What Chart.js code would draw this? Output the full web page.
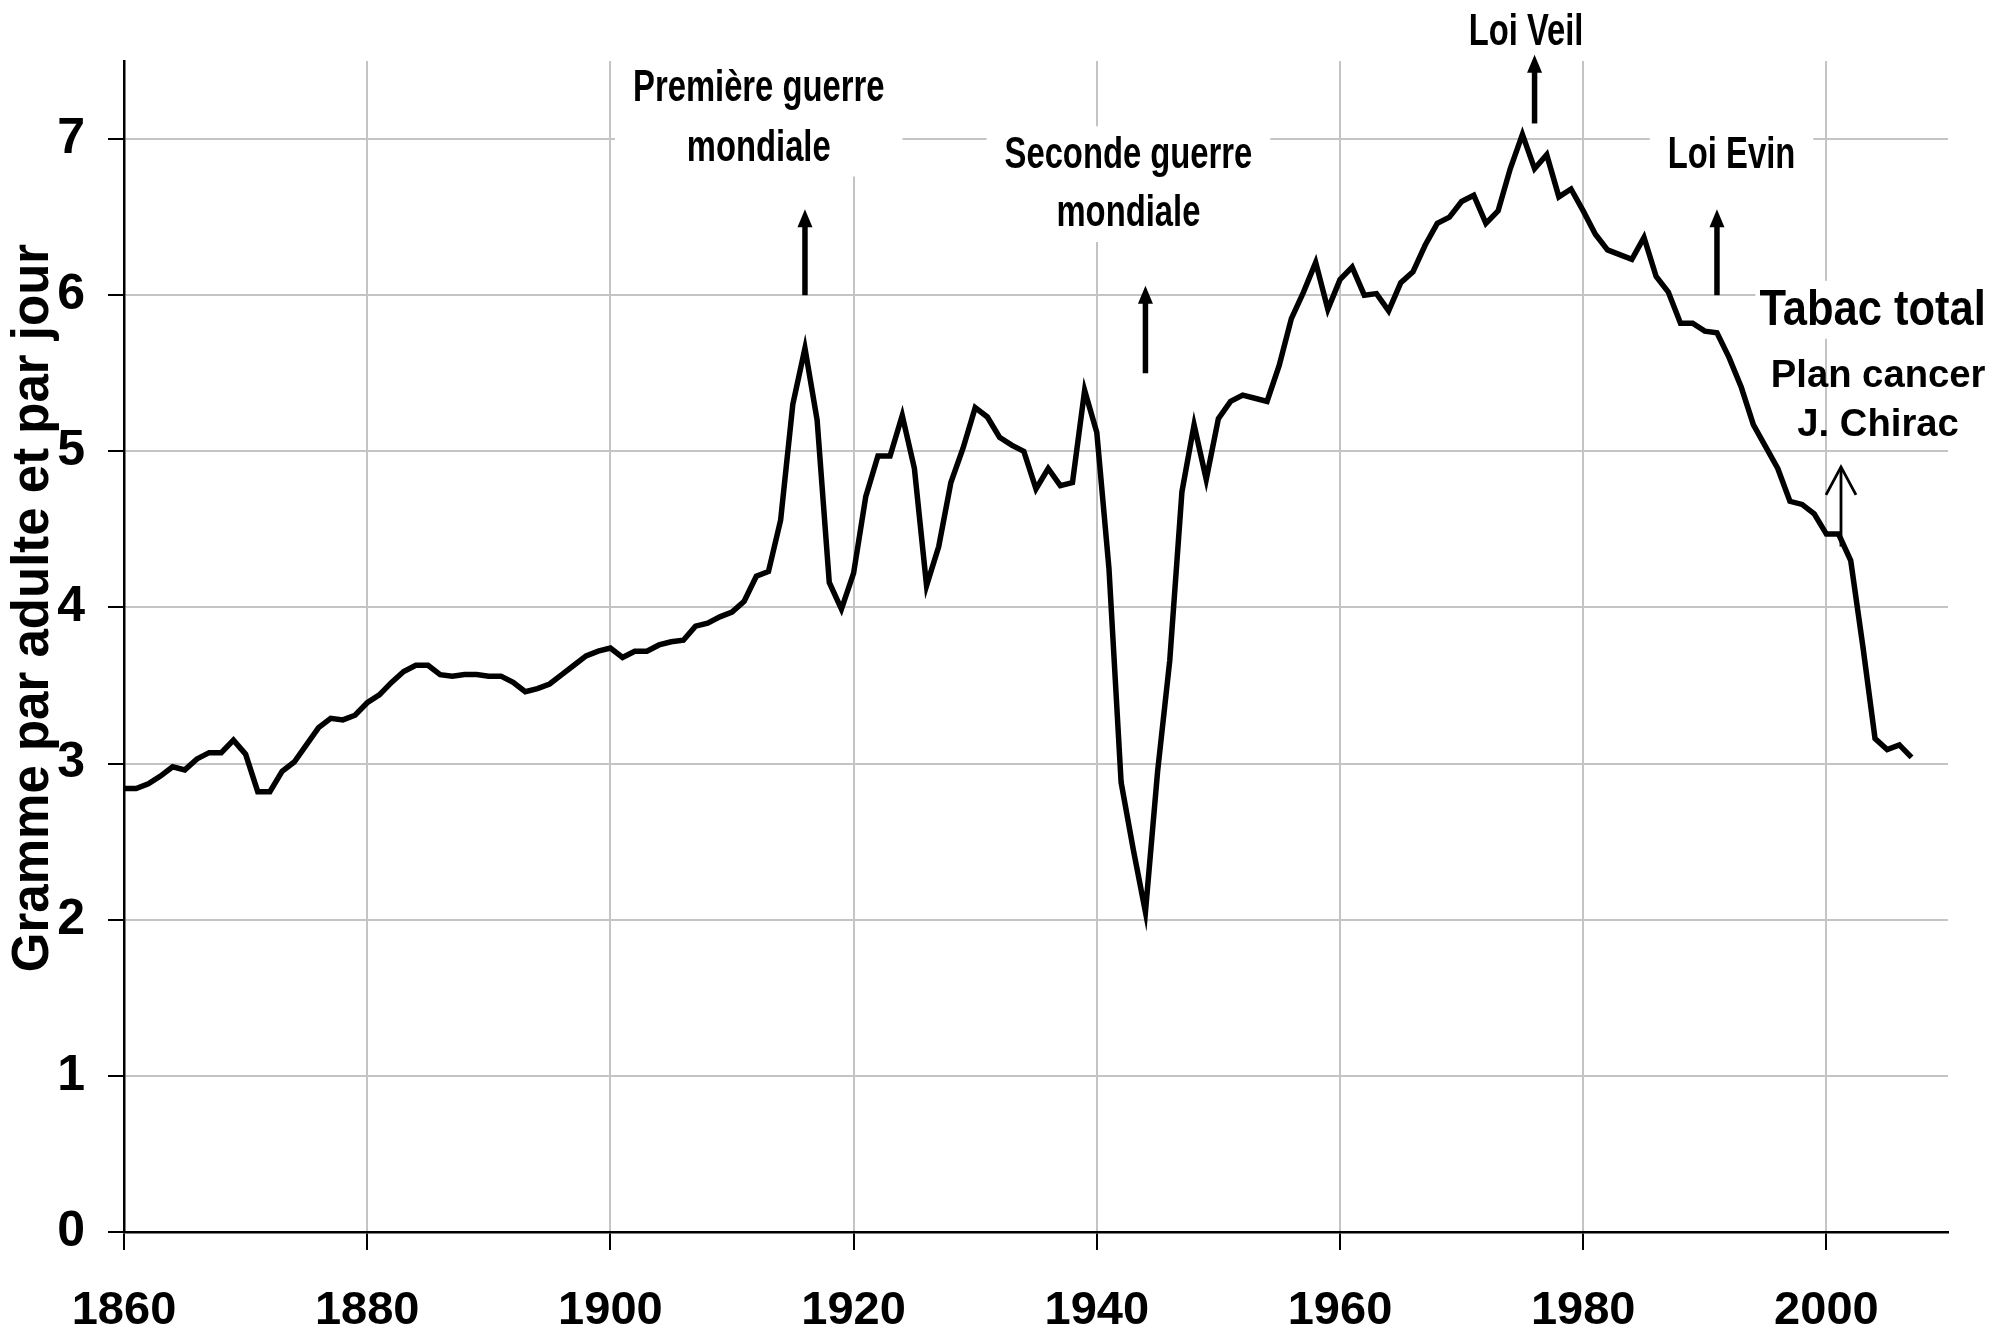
<!DOCTYPE html>
<html>
<head>
<meta charset="utf-8">
<script src="https://cdn.jsdelivr.net/npm/chart.js@4.4.1/dist/chart.umd.min.js"></script>
<style>
html,body{margin:0;padding:0;background:#fff;}
#wrap{width:1998px;height:1336px;position:relative;}
</style>
</head>
<body>
<div id="wrap"><canvas id="c"></canvas></div>
<script>
// ---- data ----
const years = [1860,1861,1862,1863,1864,1865,1866,1867,1868,1869,
1870,1871,1872,1873,1874,1875,1876,1877,1878,1879,
1880,1881,1882,1883,1884,1885,1886,1887,1888,1889,
1890,1891,1892,1893,1894,1895,1896,1897,1898,1899,
1900,1901,1902,1903,1904,1905,1906,1907,1908,1909,
1910,1911,1912,1913,1914,1915,1916,1917,1918,1919,
1920,1921,1922,1923,1924,1925,1926,1927,1928,1929,
1930,1931,1932,1933,1934,1935,1936,1937,1938,1939,
1940,1941,1942,1943,1944,1945,1946,1947,1948,1949,
1950,1951,1952,1953,1954,1955,1956,1957,1958,1959,
1960,1961,1962,1963,1964,1965,1966,1967,1968,1969,
1970,1971,1972,1973,1974,1975,1976,1977,1978,1979,
1980,1981,1982,1983,1984,1985,1986,1987,1988,1989,
1990,1991,1992,1993,1994,1995,1996,1997,1998,1999,
2000,2001,2002,2003,2004,2005,2006,2007];

const tabacTotal = [2.84,2.84,2.87,2.92,2.98,2.96,3.03,3.07,3.07,3.15,
3.06,2.82,2.82,2.95,3.01,3.12,3.23,3.29,3.28,3.31,
3.39,3.44,3.52,3.59,3.63,3.63,3.57,3.56,3.57,3.57,
3.56,3.56,3.52,3.46,3.48,3.51,3.57,3.63,3.69,3.72,
3.74,3.68,3.72,3.72,3.76,3.78,3.79,3.88,3.90,3.94,
3.97,4.04,4.20,4.23,4.56,5.30,5.66,5.20,4.16,3.99,
4.22,4.71,4.97,4.97,5.23,4.89,4.14,4.39,4.80,5.02,
5.28,5.22,5.09,5.04,5.00,4.76,4.89,4.78,4.80,5.39,
5.12,4.25,2.88,2.45,2.05,2.95,3.66,4.74,5.17,4.82,
5.21,5.32,5.36,5.34,5.32,5.55,5.85,6.02,6.21,5.91,
6.10,6.18,6.00,6.01,5.90,6.08,6.15,6.32,6.46,6.50,
6.60,6.64,6.46,6.54,6.81,7.03,6.81,6.90,6.63,6.68,
6.54,6.39,6.29,6.26,6.23,6.37,6.12,6.02,5.82,5.82,
5.77,5.76,5.60,5.41,5.17,5.03,4.89,4.68,4.66,4.60,
4.47,4.47,4.30,3.75,3.16,3.09,3.12,3.04];

const xTickYears = [1860,1880,1900,1920,1940,1960,1980,2000];
const yTickValues = [0,1,2,3,4,5,6,7];
const yTitle = 'Gramme par adulte et par jour';

// annotation texts anchored in data units (year, value)
const noteTexts = [
  {lines:['Première guerre','mondiale'], year:1912.2, values:[7.32,6.94], kind:'narrow', boxed:true},
  {lines:['Seconde guerre','mondiale'], year:1942.6, values:[6.89,6.52], kind:'narrow', boxed:true},
  {lines:['Loi Veil'], year:1975.3, values:[7.68], kind:'narrow', boxed:true},
  {lines:['Loi Evin'], year:1992.2, values:[6.89], kind:'narrow', boxed:true},
  {lines:['Tabac total'], year:2003.8, values:[5.90], kind:'big', boxed:true},
  {lines:['Plan cancer','J. Chirac'], year:2004.25, values:[5.48,5.17], kind:'plain', boxed:false}
];
// arrows: year, from value, to value
const arrowYears = [1916,1944,1976,1991,2001.2];
const arrowFrom  = [6.0,5.5,7.1,6.0,4.39];
const arrowTo    = [6.55,6.06,7.54,6.55,4.90];
const arrowOpen  = [false,false,false,false,true];

// ---- styles ----
const FONT_SANS = '"Liberation Sans",Arial,sans-serif';
// font + horizontal squeeze for each annotation kind
const noteStyles = {
  narrow: {font: 'bold 44px ' + FONT_SANS, sx: 0.745},
  big:    {font: 'bold 50px ' + FONT_SANS, sx: 0.87},
  plain:  {font: 'bold 39px ' + FONT_SANS, sx: 0.98}
};

const notesPlugin = {
  id: 'notes',
  beforeDatasetsDraw(chart) {
    const {ctx, scales:{x, y}} = chart;
    ctx.save();
    ctx.fillStyle = '#ffffff';
    for (const n of noteTexts) {
      if (!n.boxed) continue;
      const st = noteStyles[n.kind];
      ctx.font = st.font;
      const w = Math.max(...n.lines.map(l => ctx.measureText(l).width)) * st.sx;
      const cx = x.getPixelForValue(n.year);
      const ys = n.values.map(v => y.getPixelForValue(v));
      const padH = n.kind === 'big' ? 4 : 18;
      const top = Math.min(...ys) - 30;
      const bot = Math.max(...ys) + 28;
      ctx.fillRect(cx - w/2 - padH, top, w + 2*padH, bot - top);
    }
    ctx.restore();
  },
  afterDatasetsDraw(chart) {
    const {ctx, scales:{x, y}} = chart;
    ctx.save();
    ctx.fillStyle = '#000';
    ctx.strokeStyle = '#000';
    ctx.textAlign = 'center';
    ctx.textBaseline = 'middle';
    for (const n of noteTexts) {
      const st = noteStyles[n.kind];
      ctx.font = st.font;
      const cx = x.getPixelForValue(n.year);
      n.lines.forEach((l, i) => {
        ctx.save();
        ctx.translate(cx, y.getPixelForValue(n.values[i]));
        ctx.scale(st.sx, 1);
        ctx.fillText(l, 0, 0);
        ctx.restore();
      });
    }
    // arrows
    arrowYears.forEach((yr, i) => {
      const ax = x.getPixelForValue(yr);
      const y0 = y.getPixelForValue(arrowFrom[i]);
      const y1 = y.getPixelForValue(arrowTo[i]);
      if (arrowOpen[i]) {
        ctx.lineWidth = 2.8;
        ctx.lineCap = 'butt';
        ctx.beginPath();
        ctx.moveTo(ax, y0); ctx.lineTo(ax, y1 + 1);
        ctx.stroke();
        ctx.beginPath();
        ctx.moveTo(ax - 15, y1 + 28); ctx.lineTo(ax, y1); ctx.lineTo(ax + 15, y1 + 28);
        ctx.lineJoin = 'miter';
        ctx.stroke();
      } else {
        ctx.lineWidth = 5.5;
        ctx.lineCap = 'butt';
        ctx.beginPath();
        ctx.moveTo(ax, y0); ctx.lineTo(ax, y1 + 14);
        ctx.stroke();
        ctx.beginPath();
        ctx.moveTo(ax, y1); ctx.lineTo(ax - 7.5, y1 + 18); ctx.lineTo(ax + 7.5, y1 + 18);
        ctx.closePath();
        ctx.fill();
      }
    });
    ctx.restore();
  },
  afterDraw(chart) {
    const {ctx} = chart;
    ctx.save();
    ctx.translate(34, 608);
    ctx.rotate(-Math.PI/2);
    ctx.font = 'bold 51px ' + FONT_SANS;
    ctx.fillStyle = '#000';
    ctx.textAlign = 'center';
    ctx.textBaseline = 'middle';
    ctx.fillText(yTitle, 0, 0);
    ctx.restore();
  }
};

const points = years.map((yr, i) => ({x: yr, y: tabacTotal[i]}));

new Chart(document.getElementById('c'), {
  type: 'line',
  data: {
    datasets: [{
      label: 'Tabac total',
      data: points,
      borderColor: '#000',
      borderWidth: 5.5,
      borderJoinStyle: 'miter',
      pointRadius: 0,
      tension: 0,
      fill: false
    }]
  },
  options: {
    responsive: true,
    maintainAspectRatio: false,
    animation: false,
    layout: {padding: {left: 0, right: 50, top: 61, bottom: 0}},
    plugins: {legend: {display: false}, tooltip: {enabled: false}},
    scales: {
      x: {
        type: 'linear',
        min: 1860, max: 2010,
        afterBuildTicks(scale) { scale.ticks = xTickYears.map(v => ({value: v})); },
        afterFit(scale) { scale.height = 104; },
        ticks: {
          stepSize: 20,
          padding: 33,
          color: '#000',
          font: {family: FONT_SANS, size: 47, weight: 'bold'},
          maxRotation: 0,
          callback: v => String(v)
        },
        grid: {color: '#c4c4c4', lineWidth: 2, tickLength: 18, tickColor: '#000', tickWidth: 2},
        border: {color: '#000', width: 2.5}
      },
      y: {
        type: 'linear',
        min: 0, max: 7.5,
        afterBuildTicks(scale) { scale.ticks = yTickValues.map(v => ({value: v})); },
        afterFit(scale) { scale.width = 124; },
        ticks: {
          stepSize: 1,
          padding: 23,
          color: '#000',
          font: {family: FONT_SANS, size: 50, weight: 'bold'},
          callback: v => String(v)
        },
        grid: {color: '#c4c4c4', lineWidth: 2, tickLength: 16, tickColor: '#000', tickWidth: 2},
        border: {color: '#000', width: 2.5}
      }
    }
  },
  plugins: [notesPlugin]
});
</script>
</body>
</html>
